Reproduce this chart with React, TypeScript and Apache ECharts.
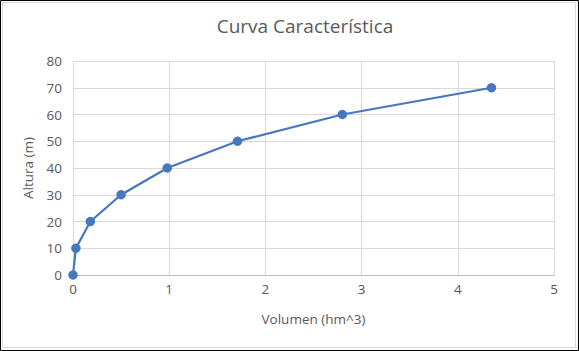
import React, { useEffect, useRef } from "react";
import * as echarts from "echarts";

const volumen = [0, 0.03, 0.18, 0.5, 0.98, 1.71, 2.8, 4.35];
const altura = [0, 10, 20, 30, 40, 50, 60, 70];

const titleText = "Curva Característica";
const xName = "Volumen (hm^3)";
const yName = "Altura (m)";

export default function App() {
  const ref = useRef<HTMLDivElement>(null);
  useEffect(() => {
    document.body.style.margin = "0";
    const chart = echarts.init(ref.current!, null, { renderer: "svg" });
    const font = "'Open Sans', sans-serif";
    chart.setOption({
      animation: false,
      backgroundColor: "#fff",
      textStyle: { fontFamily: font },
      title: {
        text: titleText,
        left: 300,
        top: 11,
        textAlign: "center",
        textStyle: { fontSize: 19, fontWeight: "normal", color: "#595959", fontFamily: font },
      },
      grid: { left: 73, right: 25, top: 61, bottom: 76 },
      xAxis: {
        type: "value",
        min: 0,
        max: 5,
        interval: 1,
        name: xName,
        nameLocation: "middle",
        nameGap: 37,
        nameTextStyle: { fontSize: 13.5, color: "#595959" },
        axisLine: { show: true, onZero: false, lineStyle: { color: "#bfbfbf", width: 1 } },
        axisTick: { show: false },
        axisLabel: { fontSize: 13.5, color: "#595959", margin: 7 },
        splitLine: { show: true, lineStyle: { color: "#d9d9d9", width: 1 } },
      },
      yAxis: {
        type: "value",
        min: 0,
        max: 80,
        interval: 10,
        name: yName,
        nameLocation: "middle",
        nameGap: 38,
        nameRotate: 90,
        nameTextStyle: { fontSize: 13.5, color: "#595959" },
        axisLine: { show: false },
        axisTick: { show: false },
        axisLabel: { fontSize: 13.5, color: "#595959", margin: 11 },
        splitLine: { show: true, lineStyle: { color: "#d9d9d9", width: 1 } },
      },
      series: [
        {
          type: "line",
          data: volumen.map((v, i) => [v, altura[i]]),
          symbol: "circle",
          symbolSize: 9.5,
          itemStyle: { color: "#4677BF" },
          lineStyle: { color: "#4677BF", width: 2.25 },
        },
      ],
      graphic: [
        {
          type: "rect",
          shape: { x: 0.5, y: 0.5, width: 578, height: 350 },
          style: { fill: "none", stroke: "#000", lineWidth: 1 },
          silent: true,
        },
        {
          type: "rect",
          shape: { x: 2.5, y: 2.5, width: 573, height: 345 },
          style: { fill: "none", stroke: "#d9d9d9", lineWidth: 1 },
          silent: true,
        },
      ],
    });
    return () => chart.dispose();
  }, []);
  return (
    <div
      ref={ref}
      style={{ position: "fixed", left: 0, top: 0, width: 579, height: 351 }}
    />
  );
}
